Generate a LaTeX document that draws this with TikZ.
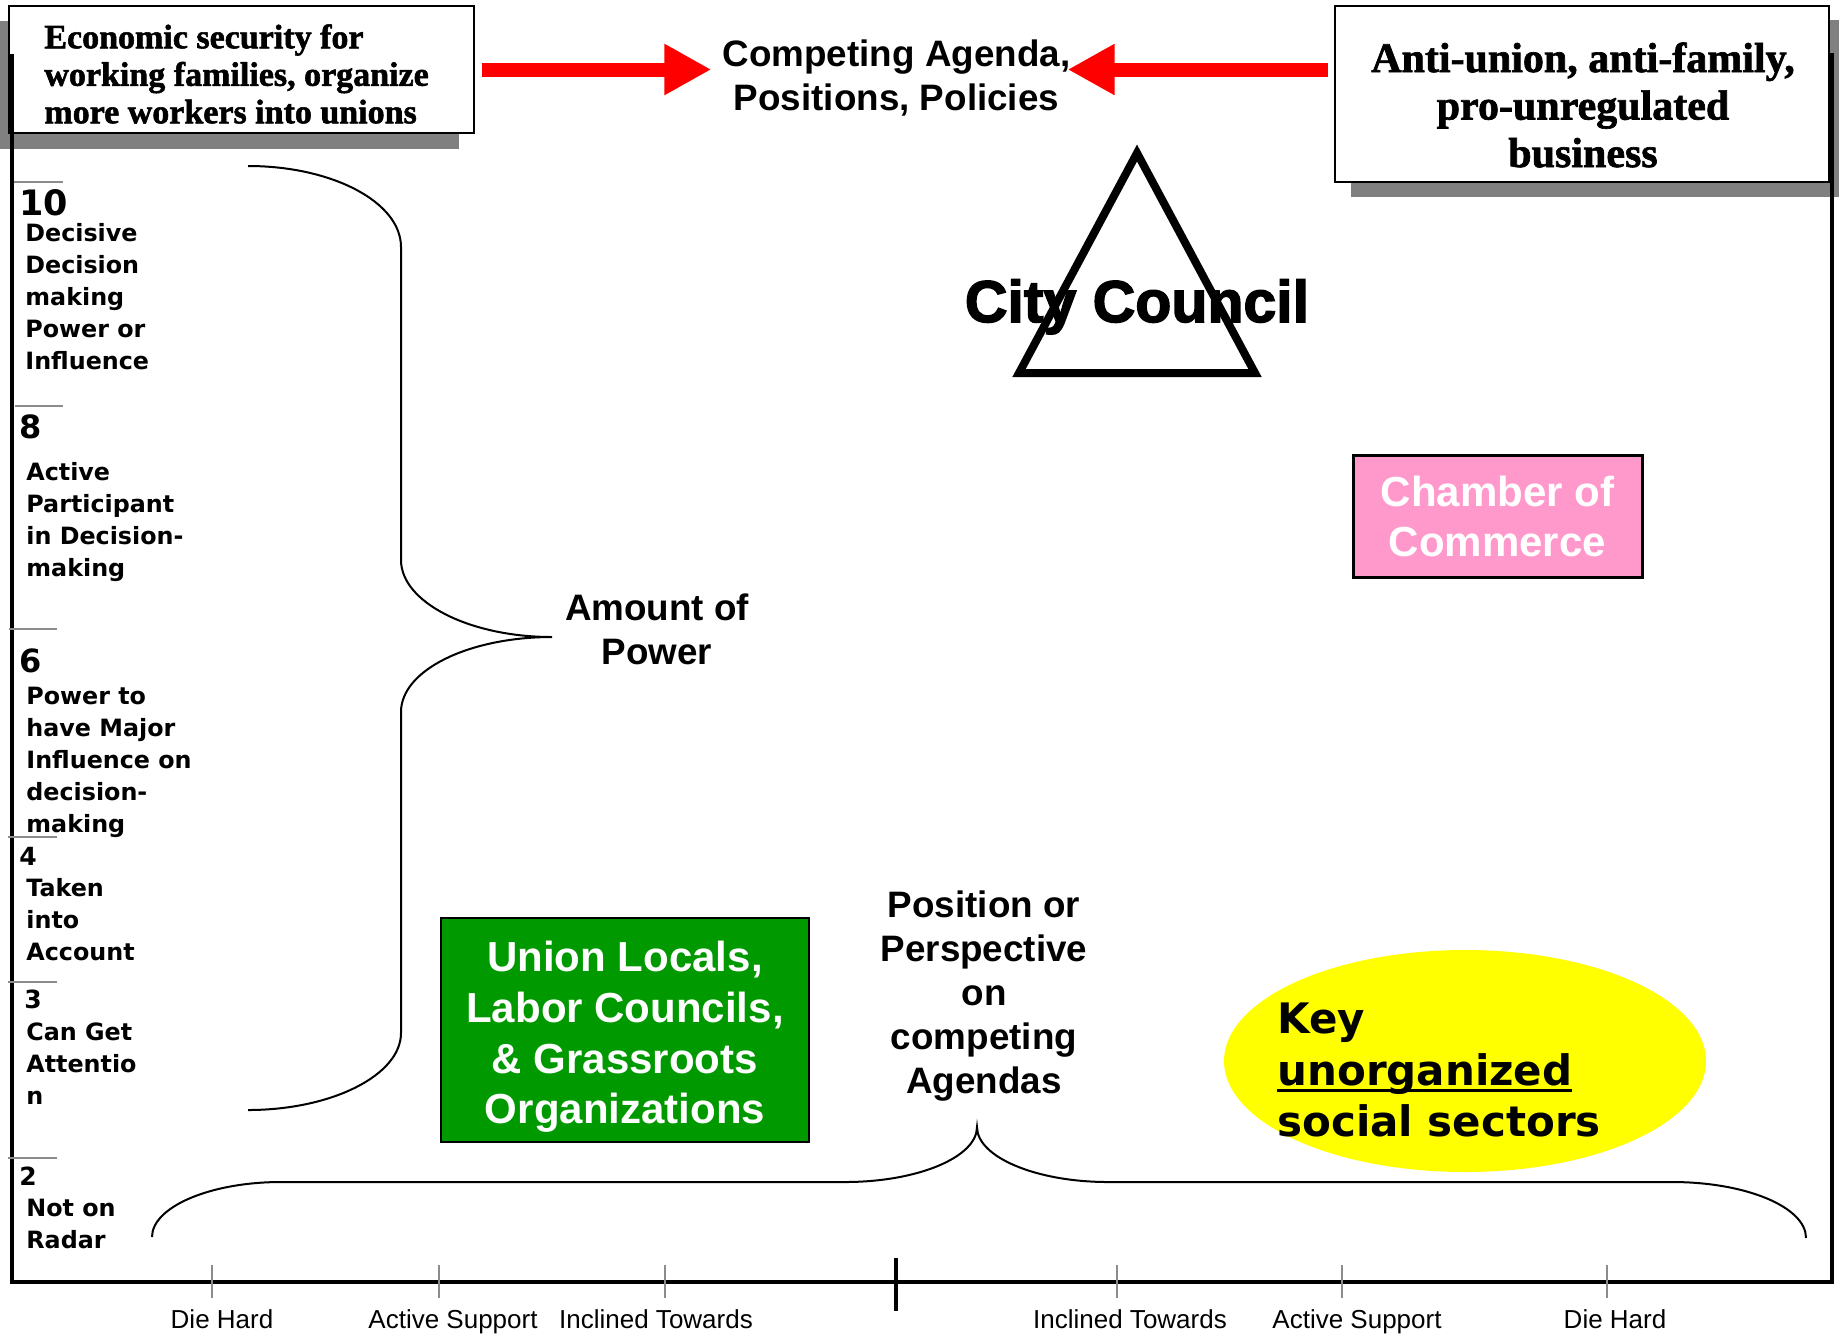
\documentclass[tikz,border=0pt]{standalone}
\usepackage{fontspec}
\setmainfont{Liberation Sans}
\newfontfamily\verdanafont{DejaVu Sans}
\newfontfamily\serifboxfont[BoldFeatures={FakeBold=1.6}]{Liberation Serif}
\newfontfamily\councilfont[BoldFeatures={FakeBold=2.5}]{Liberation Sans}
\usetikzlibrary{arrows.meta}
\usepackage{xcolor}
\definecolor{shadowgray}{HTML}{808080}
\definecolor{tickgray}{HTML}{8C8C8C}
\definecolor{uniongreen}{HTML}{009900}
\definecolor{chamberpink}{HTML}{FF99CC}
\definecolor{keyyellow}{HTML}{FFFF00}
\newcommand{\ulword}[1]{\setbox0\hbox{#1}\rlap{\rule[-3.25pt]{\wd0}{1.5pt}}\box0}

\begin{document}
\begin{tikzpicture}[x=0.5pt,y=-0.5pt]
      \tikzstyle{every node}=[inner sep=0pt]
      \tikzstyle{boxshadow}=[fill=shadowgray]
      \tikzstyle{plainbox}=[draw, line width=1pt, fill=white, rectangle]
      \tikzstyle{serifsmall}=[font=\serifboxfont\bfseries\fontsize{17}{18.75}\selectfont, align=left]
      \tikzstyle{serifbig}=[font=\serifboxfont\bfseries\fontsize{21}{23.75}\selectfont, align=center]
      \tikzstyle{heading}=[font=\bfseries\fontsize{18.4}{22}\selectfont, align=center]
      \tikzstyle{boxlabel}=[font=\bfseries\fontsize{21}{25.3}\selectfont, align=center, text=white]
      \tikzstyle{leveltop}=[font=\verdanafont\bfseries\fontsize{17.5}{20}\selectfont, anchor=west]
      \tikzstyle{levelmid}=[font=\verdanafont\bfseries\fontsize{16}{19}\selectfont, anchor=west]
      \tikzstyle{levelsmall}=[font=\verdanafont\bfseries\fontsize{12.5}{15}\selectfont, anchor=west]
      \tikzstyle{leveltext}=[font=\verdanafont\bfseries\fontsize{11.9}{16}\selectfont, align=left, anchor=west]
      \tikzstyle{scalelabel}=[font=\fontsize{13}{15}\selectfont, anchor=base]
      \tikzstyle{scaletick}=[draw=tickgray, line width=0.75pt]
      \tikzstyle{bracepath}=[draw, line width=1pt]
      \tikzstyle{bigarrow}=[draw=red, line width=7pt, -{Triangle[length=23.5pt,width=24pt]}]

      \useasboundingbox (0,0) rectangle (1839,1334);

      \fill[boxshadow] (0,21) rectangle (459,149);
      \fill[boxshadow] (1351,20) rectangle (1839,197);
      \node[plainbox, minimum width=232.5pt, minimum height=63.5pt] (lbox) at (241.5,69.5) {};
      \node[plainbox, minimum width=247pt, minimum height=88pt] (rbox) at (1582,94) {};
      \node[serifsmall, anchor=west] (lboxtext) at (44,74) {Economic security for\\working families, organize\\more workers into unions};
      \node[serifbig] (rboxtext) at (1583,105) {Anti-union, anti-family,\\pro-unregulated\\business};

      \node[heading] (agenda) at (896.5,78) {Competing Agenda,\\Positions, Policies};
      \draw[bigarrow] ([xshift=3.5pt]lbox.east) -- ([xshift=-5.5pt]agenda.west |- lbox.east);
      \draw[bigarrow] ([xshift=-3pt]rbox.west |- lbox.east) -- ([xshift=-1.5pt]agenda.east |- lbox.east);

      \draw[line width=2.25pt, line join=miter] (12,54) -- (12,1282) -- (1832,1282) -- (1832,53);
      \draw[line width=2pt] (896,1258) -- (896,1311);

      \draw[scaletick] (14,182) -- (63,182);
      \draw[scaletick] (15,406) -- (63,406);
      \draw[scaletick] (9,629) -- (57,629);
      \draw[scaletick] (8,837) -- (57,837);
      \draw[scaletick] (8,982) -- (57,982);
      \draw[scaletick] (8,1158) -- (57,1158);

      \node[leveltop] (lvl10) at (19,203) {10};
      \node[leveltext] (txt10) at (25,297) {Decisive\\Decision\\making\\Power or\\Influence};
      \node[levelmid] (lvl8) at (19,427) {8};
      \node[leveltext] (txt8) at (26,522) {Active\\Participant\\in Decision-\\making};
      \node[levelmid] (lvl6) at (19,661) {6};
      \node[leveltext] (txt6) at (26,762) {Power to\\have Major\\Influence on\\decision-\\making};
      \node[levelsmall] (lvl4) at (19,856) {4};
      \node[leveltext] (txt4) at (26,920) {Taken\\into\\Account};
      \node[levelsmall] (lvl3) at (24,999) {3};
      \node[leveltext] (txt3) at (26,1064) {Can Get\\Attentio\\n};
      \node[levelsmall] (lvl2) at (19,1176) {2};
      \node[leveltext] (txt2) at (26,1224) {Not on\\Radar};

      \draw[bracepath] (248,166) .. controls (332,166) and (401,202) .. (401,247) -- (401,560)
            .. controls (401,602) and (469,637) .. (552,637)
            .. controls (469,637) and (401,670) .. (401,712) -- (401,1033)
            .. controls (401,1075) and (332,1110) .. (248,1110);
      \node[heading] (amount) at (657,629) {Amount of\\Power};

      \draw[line width=4pt, line join=miter] (1137,153) -- (1255,373) -- (1019,373) -- cycle;
      \node[font=\councilfont\bfseries\fontsize{29.5}{34}\selectfont, anchor=base] (council) at (1137,322) {City Council};

      \node[plainbox, fill=chamberpink, line width=1.5pt, minimum width=144.5pt, minimum height=61pt,
            font=\bfseries\fontsize{21}{25}\selectfont, align=center, text=white] (chamber) at (1497.5,516) {Chamber of\\Commerce};

      \node[plainbox, fill=uniongreen, minimum width=184pt, minimum height=112pt] (unionbox) at (625,1030) {};
      \node[boxlabel] (unionlbl) at (625,1037) {Union Locals,\\Labor Councils,\\\& Grassroots\\Organizations};

      \node[heading] (position) at (984,996) {Position or\\Perspective\\on\\competing\\Agendas};

      \fill[keyyellow] (1465,1061) ellipse [x radius=120.5pt, y radius=55.5pt];
      \node[font=\verdanafont\bfseries\fontsize{21}{25.75}\selectfont, align=left, anchor=west] (keylbl) at (1277,1070) {Key\\\ulword{unorganized}\\social sectors};

      \draw[bracepath] (152,1237) .. controls (152,1207) and (210,1182) .. (281,1182) -- (845,1182)
            .. controls (918,1182) and (977,1157) .. (977,1127)
            .. controls (977,1157) and (1036,1182) .. (1108,1182) -- (1672,1182)
            .. controls (1746,1182) and (1806,1207) .. (1806,1238);

      \draw[scaletick] (212,1265) -- (212,1298);
      \draw[scaletick] (439,1265) -- (439,1298);
      \draw[scaletick] (665,1265) -- (665,1298);
      \draw[scaletick] (1117,1265) -- (1117,1298);
      \draw[scaletick] (1342,1265) -- (1342,1298);
      \draw[scaletick] (1607,1265) -- (1607,1298);

      \node[scalelabel] (lhard) at (222,1328) {Die Hard};
      \node[scalelabel] (lsupport) at (453,1328) {Active Support};
      \node[scalelabel] (linclined) at (656,1328) {Inclined Towards};
      \node[scalelabel] (rinclined) at (1130,1328) {Inclined Towards};
      \node[scalelabel] (rsupport) at (1357,1328) {Active Support};
      \node[scalelabel] (rhard) at (1615,1328) {Die Hard};
    \end{tikzpicture}
\end{document}
